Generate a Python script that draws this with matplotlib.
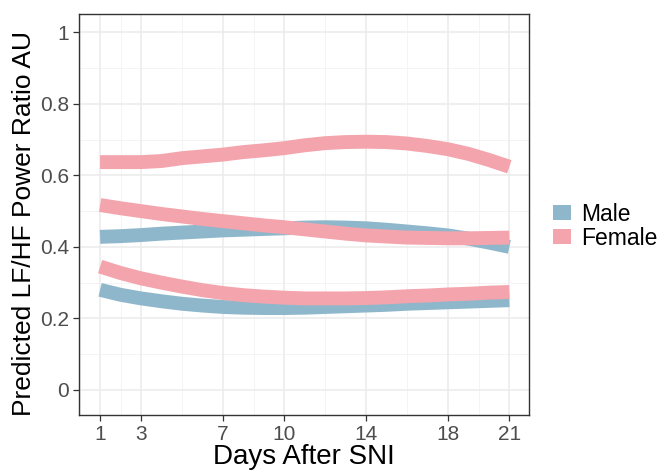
import matplotlib
matplotlib.use("Agg")
import matplotlib.pyplot as plt
from matplotlib.patches import Patch

plt.rcParams["font.family"] = ["Liberation Sans", "DejaVu Sans"]

days = list(range(1, 22))

# predicted LF/HF power ratio, three curves per sex
male_mid = [0.428, 0.430, 0.433, 0.437, 0.440, 0.443, 0.446, 0.448, 0.450, 0.452, 0.454,
            0.455, 0.454, 0.452, 0.448, 0.443, 0.438, 0.432, 0.423, 0.412, 0.400]
male_low = [0.280, 0.266, 0.256, 0.248, 0.241, 0.236, 0.232, 0.230, 0.229, 0.229, 0.230,
            0.232, 0.234, 0.236, 0.238, 0.241, 0.243, 0.245, 0.247, 0.249, 0.251]
female_top = [0.637, 0.637, 0.637, 0.640, 0.648, 0.653, 0.658, 0.665, 0.670, 0.676, 0.684,
              0.690, 0.693, 0.694, 0.693, 0.689, 0.682, 0.673, 0.660, 0.643, 0.624]
female_mid = [0.517, 0.508, 0.500, 0.492, 0.485, 0.478, 0.472, 0.466, 0.460, 0.455, 0.449,
              0.443, 0.437, 0.432, 0.429, 0.426, 0.425, 0.424, 0.424, 0.425, 0.426]
female_low = [0.345, 0.327, 0.312, 0.300, 0.289, 0.279, 0.271, 0.265, 0.261, 0.258, 0.256,
              0.256, 0.256, 0.257, 0.259, 0.262, 0.264, 0.267, 0.269, 0.272, 0.274]

x_breaks = [1, 3, 7, 10, 14, 18, 21]
x_minor = [0, 2, 5, 8.5, 12, 16, 19.5]
y_breaks = [0, 0.2, 0.4, 0.6, 0.8, 1.0]
y_labels = ["0", "0.2", "0.4", "0.6", "0.8", "1"]
y_minor = [0.1, 0.3, 0.5, 0.7, 0.9]

MALE = "#8fb7cb"
FEMALE = "#f4a4ad"
LW = 10

fig = plt.figure(figsize=(6.64, 4.75), dpi=100)
ax = fig.add_axes([0.119, 0.1263, 0.678, 0.8442])

for v in x_minor:
    ax.axvline(v, color="#f2f2f2", lw=0.6, zorder=0)
for v in y_minor:
    ax.axhline(v, color="#f2f2f2", lw=0.6, zorder=0)
for v in x_breaks:
    ax.axvline(v, color="#ebebeb", lw=1.1, zorder=0)
for v in y_breaks:
    ax.axhline(v, color="#ebebeb", lw=1.1, zorder=0)

for ys in (male_mid, male_low):
    ax.plot(days, ys, color=MALE, lw=LW, solid_capstyle="butt", zorder=2)
for ys in (female_top, female_mid, female_low):
    ax.plot(days, ys, color=FEMALE, lw=LW, solid_capstyle="butt", zorder=3)

ax.set_xlim(-0.03, 21.97)
ax.set_ylim(-0.07, 1.051)
ax.set_xticks(x_breaks)
ax.set_xticklabels([str(d) for d in x_breaks])
ax.set_yticks(y_breaks)
ax.set_yticklabels(y_labels)
ax.tick_params(axis="both", labelsize=15, colors="#333333", labelcolor="#4d4d4d",
               length=4, width=0.9, pad=3)

for s in ax.spines.values():
    s.set_color("#333333")
    s.set_linewidth(1.0)

ax.set_xlabel("Days After SNI", fontsize=20, labelpad=0)
ax.set_ylabel("Predicted LF/HF Power Ratio AU", fontsize=19)
ax.yaxis.set_label_coords(-0.096, 0.477)

handles = [Patch(facecolor=MALE, edgecolor="none", label="Male"),
           Patch(facecolor=FEMALE, edgecolor="none", label="Female")]
fig.legend(handles=handles, loc="center left", bbox_to_anchor=(0.833, 0.524),
           frameon=False, fontsize=16.5, handlelength=0.79, handleheight=0.63,
           handletextpad=0.45, labelspacing=0.05, borderpad=0, borderaxespad=0)

fig.savefig("out.png", dpi=100)
